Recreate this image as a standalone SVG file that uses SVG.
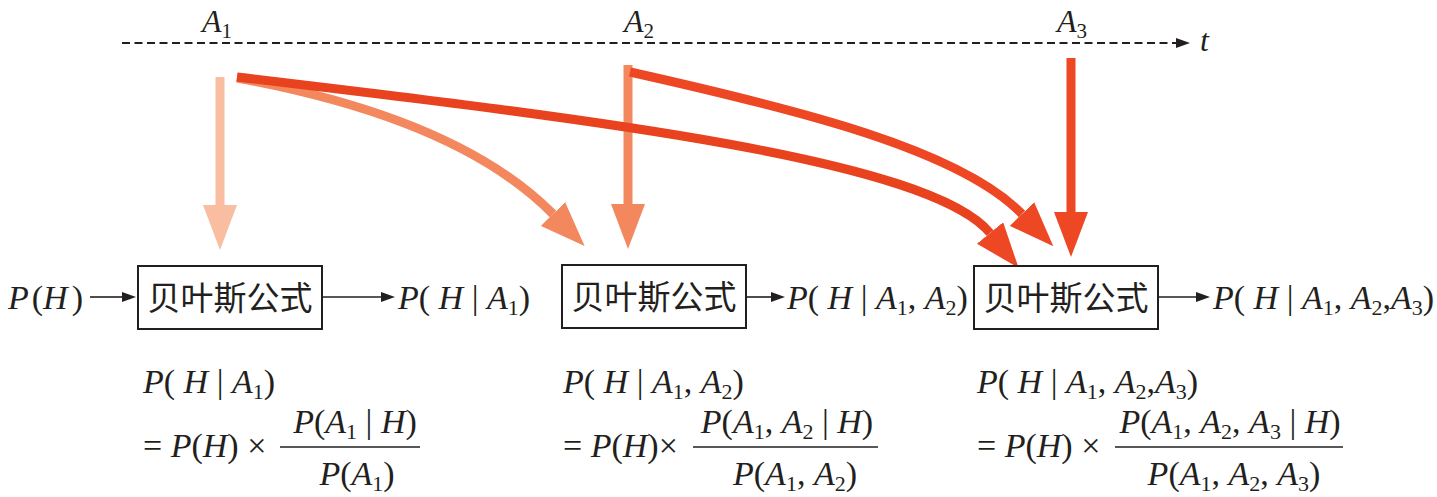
<svg xmlns="http://www.w3.org/2000/svg" width="1437" height="497" viewBox="0 0 1437 497">
<defs>
<style>
.m{font-family:"Liberation Serif","Times New Roman",serif;font-size:34px;fill:#231f20}
.tl{font-family:"Liberation Serif","Times New Roman",serif;font-size:32px;fill:#231f20}
.i{font-style:italic}
.cj{font-family:"Noto Sans CJK SC","Noto Sans",sans-serif;font-size:33px;fill:#231f20;text-anchor:middle}
.box{fill:#fff;stroke:#231f20;stroke-width:2}
.k{fill:none;stroke:#231f20;stroke-width:1.6}
.bar{stroke:#231f20;stroke-width:1.6}
.big{fill:none;stroke-width:9;stroke-linecap:butt}
</style>
<marker id="ak" viewBox="0 -5 14 10" refX="0" refY="0" markerWidth="14" markerHeight="10" markerUnits="userSpaceOnUse" orient="auto"><path d="M0,-5 L14,0 L0,5 z" fill="#231f20"/></marker>
<marker id="al" viewBox="0 -17 45 34" refX="0" refY="0" markerWidth="45" markerHeight="34" markerUnits="userSpaceOnUse" orient="auto"><path d="M0,-17 L45,0 L0,17 z" fill="#f9bda2"/></marker>
<marker id="as" viewBox="0 -17 45 34" refX="0" refY="0" markerWidth="45" markerHeight="34" markerUnits="userSpaceOnUse" orient="auto"><path d="M0,-17 L45,0 L0,17 z" fill="#f3875e"/></marker>
<marker id="ar" viewBox="0 -17 45 34" refX="0" refY="0" markerWidth="45" markerHeight="34" markerUnits="userSpaceOnUse" orient="auto"><path d="M0,-17 L45,0 L0,17 z" fill="#ee4723"/></marker>
</defs>
<rect width="1437" height="497" fill="#fff"/>

<g id="timeline">
<line x1="122" y1="43" x2="1176" y2="43" stroke="#231f20" stroke-width="1.8" stroke-dasharray="8 4.5" marker-end="url(#ak)"/>
<text class="tl i" x="1200" y="51">t</text>
<text class="tl" x="202" y="32"><tspan class="i">A</tspan><tspan font-size="21" dy="6">1</tspan></text>
<text class="tl" x="624" y="32"><tspan class="i">A</tspan><tspan font-size="21" dy="6">2</tspan></text>
<text class="tl" x="1057" y="32"><tspan class="i">A</tspan><tspan font-size="21" dy="6">3</tspan></text>
</g>

<g id="connectors">
<path class="big" stroke="#f9bda2" d="M220,77 V205" marker-end="url(#al)"/>
<path class="big" stroke="#f3875e" d="M628,65 V204" marker-end="url(#as)"/>
<path class="big" stroke="#ee4723" d="M1071,58 V212" marker-end="url(#ar)"/>
<path class="big" stroke="#f3875e" d="M237,78 C330,95 470,130 553,214" marker-end="url(#as)"/>
<path class="big" stroke="#ee4723" d="M630,72 C800,110 960,150 1022,214" marker-end="url(#ar)"/>
<path class="big" stroke="#e9421f" d="M237,77 C600,120 930,160 990,233" marker-end="url(#ar)"/>
<path class="k" d="M90,297 H122" marker-end="url(#ak)"/>
<path class="k" d="M322,297 H381" marker-end="url(#ak)"/>
<path class="k" d="M746,297 H771" marker-end="url(#ak)"/>
<path class="k" d="M1158,297 H1196" marker-end="url(#ak)"/>
</g>

<g id="prior">
<text class="m" x="8" y="309"><tspan class="i">P</tspan><tspan dx="3">(</tspan><tspan class="i">H</tspan><tspan dx="4">)</tspan></text>
</g>

<g id="bayes1">
<rect class="box" x="138" y="266" width="184" height="63"/>
<text class="cj" x="230" y="310">贝叶斯公式</text>
</g>
<g id="bayes2">
<rect class="box" x="562" y="265" width="184" height="63"/>
<text class="cj" x="654" y="309">贝叶斯公式</text>
</g>
<g id="bayes3">
<rect class="box" x="974" y="266" width="184" height="63"/>
<text class="cj" x="1066" y="310">贝叶斯公式</text>
</g>

<g id="post1">
<text class="m" x="398" y="309"><tspan class="i">P</tspan>( <tspan class="i">H</tspan> | <tspan class="i">A</tspan><tspan font-size="22" dy="6">1</tspan><tspan dy="-6">)</tspan></text>
</g>
<g id="post2">
<text class="m" x="787" y="309"><tspan class="i">P</tspan>( <tspan class="i">H</tspan> | <tspan class="i">A</tspan><tspan font-size="22" dy="6">1</tspan><tspan dy="-6">, </tspan><tspan class="i">A</tspan><tspan font-size="22" dy="6">2</tspan><tspan dy="-6">)</tspan></text>
</g>
<g id="post3">
<text class="m" x="1213" y="309"><tspan class="i">P</tspan>( <tspan class="i">H</tspan> | <tspan class="i">A</tspan><tspan font-size="22" dy="6">1</tspan><tspan dy="-6">, </tspan><tspan class="i">A</tspan><tspan font-size="22" dy="6">2</tspan><tspan dy="-6">,</tspan><tspan class="i">A</tspan><tspan font-size="22" dy="6">3</tspan><tspan dy="-6">)</tspan></text>
</g>

<g id="formula1">
<text class="m" x="143" y="393"><tspan class="i">P</tspan>( <tspan class="i">H</tspan> | <tspan class="i">A</tspan><tspan font-size="22" dy="6">1</tspan><tspan dy="-6">)</tspan></text>
<text class="m" x="143" y="457">= <tspan class="i">P</tspan>(<tspan class="i">H</tspan>) ×</text>
<text class="m" x="355" y="433" text-anchor="middle"><tspan class="i">P</tspan>(<tspan class="i">A</tspan><tspan font-size="22" dy="6">1</tspan><tspan dy="-6"> | </tspan><tspan class="i">H</tspan>)</text>
<line class="bar" x1="280" y1="447" x2="420" y2="447"/>
<text class="m" x="357" y="485" text-anchor="middle"><tspan class="i">P</tspan>(<tspan class="i">A</tspan><tspan font-size="22" dy="6">1</tspan><tspan dy="-6">)</tspan></text>
</g>

<g id="formula2">
<text class="m" x="563" y="393"><tspan class="i">P</tspan>( <tspan class="i">H</tspan> | <tspan class="i">A</tspan><tspan font-size="22" dy="6">1</tspan><tspan dy="-6">, </tspan><tspan class="i">A</tspan><tspan font-size="22" dy="6">2</tspan><tspan dy="-6">)</tspan></text>
<text class="m" x="563" y="457">= <tspan class="i">P</tspan>(<tspan class="i">H</tspan>)×</text>
<text class="m" x="787" y="433" text-anchor="middle"><tspan class="i">P</tspan>(<tspan class="i">A</tspan><tspan font-size="22" dy="6">1</tspan><tspan dy="-6">, </tspan><tspan class="i">A</tspan><tspan font-size="22" dy="6">2</tspan><tspan dy="-6"> | </tspan><tspan class="i">H</tspan>)</text>
<line class="bar" x1="693" y1="447" x2="878" y2="447"/>
<text class="m" x="795" y="485" text-anchor="middle"><tspan class="i">P</tspan>(<tspan class="i">A</tspan><tspan font-size="22" dy="6">1</tspan><tspan dy="-6">, </tspan><tspan class="i">A</tspan><tspan font-size="22" dy="6">2</tspan><tspan dy="-6">)</tspan></text>
</g>

<g id="formula3">
<text class="m" x="977" y="393"><tspan class="i">P</tspan>( <tspan class="i">H</tspan> | <tspan class="i">A</tspan><tspan font-size="22" dy="6">1</tspan><tspan dy="-6">, </tspan><tspan class="i">A</tspan><tspan font-size="22" dy="6">2</tspan><tspan dy="-6">,</tspan><tspan class="i">A</tspan><tspan font-size="22" dy="6">3</tspan><tspan dy="-6">)</tspan></text>
<text class="m" x="977" y="457">= <tspan class="i">P</tspan>(<tspan class="i">H</tspan>) ×</text>
<text class="m" x="1230" y="433" text-anchor="middle"><tspan class="i">P</tspan>(<tspan class="i">A</tspan><tspan font-size="22" dy="6">1</tspan><tspan dy="-6">, </tspan><tspan class="i">A</tspan><tspan font-size="22" dy="6">2</tspan><tspan dy="-6">, </tspan><tspan class="i">A</tspan><tspan font-size="22" dy="6">3</tspan><tspan dy="-6"> | </tspan><tspan class="i">H</tspan>)</text>
<line class="bar" x1="1115" y1="447" x2="1343" y2="447"/>
<text class="m" x="1234" y="485" text-anchor="middle"><tspan class="i">P</tspan>(<tspan class="i">A</tspan><tspan font-size="22" dy="6">1</tspan><tspan dy="-6">, </tspan><tspan class="i">A</tspan><tspan font-size="22" dy="6">2</tspan><tspan dy="-6">, </tspan><tspan class="i">A</tspan><tspan font-size="22" dy="6">3</tspan><tspan dy="-6">)</tspan></text>
</g>
</svg>
